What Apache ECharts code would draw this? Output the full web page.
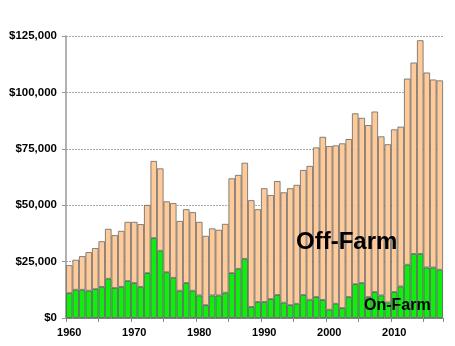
<!DOCTYPE html>
<html>
<head>
<meta charset="utf-8">
<script src="https://cdn.jsdelivr.net/npm/echarts@6/dist/echarts.min.js"></script>
<style>html,body{margin:0;padding:0;background:#fff}#c{width:455px;height:346px}</style>
</head>
<body>
<div id="c"></div>
<script>
var years = [];
for (var y = 1960; y <= 2017; y++) years.push(String(y));

var onFarm = [11000,12500,12500,12100,12800,13800,17400,13300,13800,16400,
  15500,13800,19900,35400,29800,20300,17800,12100,15500,12100,
  10000,5700,10000,10000,11200,19900,21800,26200,4900,7100,
  7100,8400,10200,6800,5700,6300,10200,8100,9300,8000,
  3700,6300,4400,9300,15000,15500,9300,11500,10000,6900,
  11500,14000,23600,28400,28400,22400,22400,21400];

var offFarm = [12400,13300,14900,17100,18200,20200,22100,23400,24800,26200,
  27100,27800,30200,34200,36500,31400,33100,30900,32700,34800,
  32600,30700,29700,29100,30500,42000,41600,42600,47300,41100,
  50400,46100,50500,48900,51800,52700,55400,59300,66300,72300,
  72500,70200,73000,70000,75700,73200,76200,80000,70500,70100,
  72100,70800,82500,84800,94700,86400,83300,83900];

var yTicks = [0,25000,50000,75000,100000,125000];

var font = 'Arial, "Liberation Sans", sans-serif';
var chart = echarts.init(document.getElementById('c'), null, {renderer:'canvas'});
chart.setOption({
  animation:false,
  grid:{left:66,right:12,top:36,bottom:28,containLabel:false},
  xAxis:{
    type:'category', data:years, boundaryGap:true,
    axisLine:{lineStyle:{color:'#888',width:1}},
    axisTick:{show:true,interval:4,length:4,inside:false,lineStyle:{color:'#888'}},
    axisLabel:{interval:9,color:'#000',fontWeight:'bold',fontSize:11,fontFamily:font,margin:9}
  },
  yAxis:{
    type:'value', min:yTicks[0], max:yTicks[yTicks.length-1], interval:25000,
    axisLine:{show:true,lineStyle:{color:'#999',width:1.5}},
    axisTick:{show:true,length:4,lineStyle:{color:'#999'}},
    axisLabel:{color:'#000',fontWeight:'bold',fontSize:11.5,fontFamily:font,margin:9,
      formatter:function(v){return '$'+v.toString().replace(/\B(?=(\d{3})+(?!\d))/g, ',');}},
    splitLine:{show:true,lineStyle:{color:'#aaa',type:[2,1],width:1}}
  },
  series:[
    {name:'On-Farm',type:'bar',stack:'t',data:onFarm,barCategoryGap:'0%',
     itemStyle:{color:'#10ee10',borderColor:'#555',borderWidth:0.8}},
    {name:'Off-Farm',type:'bar',stack:'t',data:offFarm,barCategoryGap:'0%',
     itemStyle:{color:'#ffca99',borderColor:'#666',borderWidth:0.8}}
  ],
  graphic:[
    {type:'text',left:296,top:230,z:100,zlevel:1,style:{text:'Off-Farm',fill:'#000',font:'bold 24px '+font}},
    {type:'text',left:364,top:298,z:100,zlevel:1,style:{text:'On-Farm',fill:'#000',font:'bold 16px '+font}}
  ]
});
</script>
</body>
</html>
